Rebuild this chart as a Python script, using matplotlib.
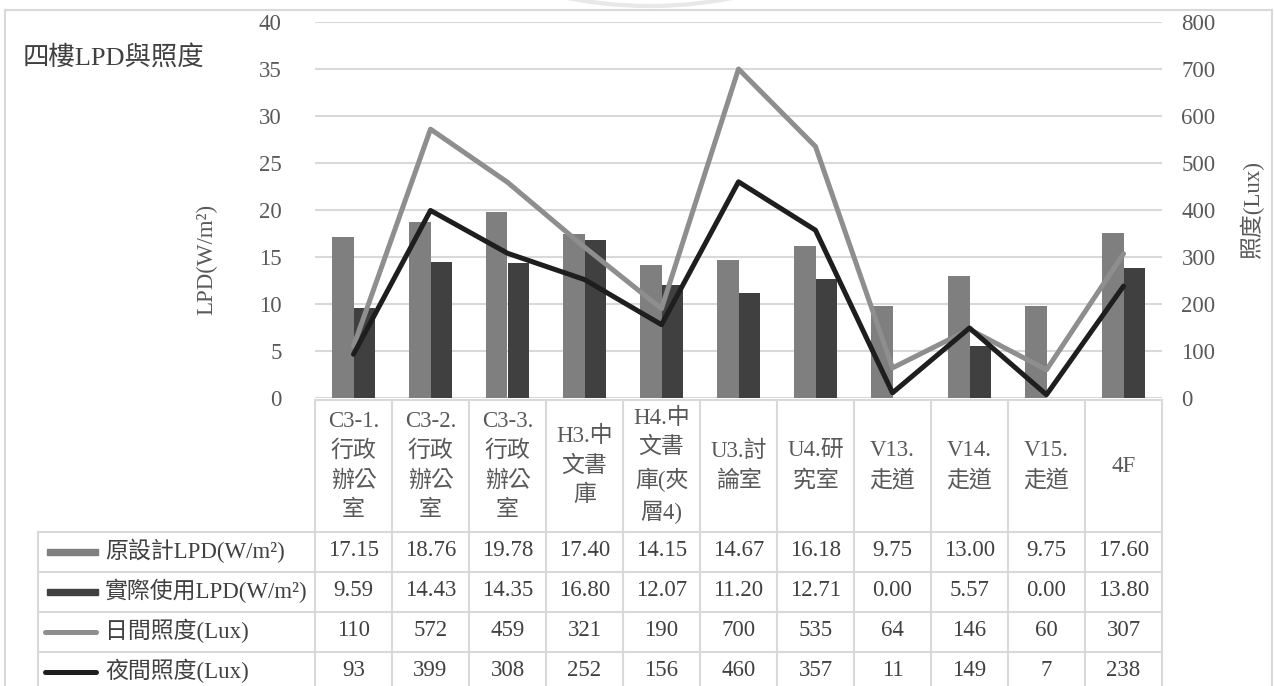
import matplotlib
matplotlib.use("Agg")
import matplotlib.pyplot as plt
from matplotlib import transforms
from matplotlib.lines import Line2D
from matplotlib.patches import Rectangle, Arc

# ---- data ----
categories = ["C3-1.\n行政\n辦公\n室", "C3-2.\n行政\n辦公\n室", "C3-3.\n行政\n辦公\n室",
              "H3.中\n文書\n庫", "H4.中\n文書\n庫(夾\n層4)", "U3.討\n論室",
              "U4.研\n究室", "V13.\n走道", "V14.\n走道", "V15.\n走道", "4F"]
design_lpd = [17.15, 18.76, 19.78, 17.40, 14.15, 14.67, 16.18, 9.75, 13.00, 9.75, 17.60]
actual_lpd = [9.59, 14.43, 14.35, 16.80, 12.07, 11.20, 12.71, 0.00, 5.57, 0.00, 13.80]
day_lux = [110, 572, 459, 321, 190, 700, 535, 64, 146, 60, 307]
night_lux = [93, 399, 308, 252, 156, 460, 357, 11, 149, 7, 238]
series_names = ["原設計LPD(W/m²)", "實際使用LPD(W/m²)", "日間照度(Lux)", "夜間照度(Lux)"]
title = "四樓LPD與照度"
left_ticks = [0, 5, 10, 15, 20, 25, 30, 35, 40]
right_ticks = [0, 100, 200, 300, 400, 500, 600, 700, 800]

# ---- style ----
FAM = ["Liberation Serif", "Noto Sans CJK TC", "DejaVu Sans"]
plt.rcParams["font.family"] = FAM
TXT = "#595959"
GRID = "#d9d9d9"
C_DESIGN = "#7f7f7f"
C_ACTUAL = "#404040"
C_DAY = "#8e8e8e"
C_NIGHT = "#1e1e1e"
FS = 16.5

W, H = 1274, 686
fig = plt.figure(figsize=(W / 100, H / 100), dpi=100)


def fx(x):
    return x / W


def fy(y):
    return 1 - y / H


ax = fig.add_axes([fx(315), fy(398), fx(1162) - fx(315), fy(22) - fy(398)])
ax2 = ax.twinx()

n = len(categories)
xs = list(range(n))
bw = 0.28
ax.bar([x - bw / 2 for x in xs], design_lpd, width=bw, color=C_DESIGN, zorder=2)
ax.bar([x + bw / 2 for x in xs], actual_lpd, width=bw, color=C_ACTUAL, zorder=2)
ax.set_xlim(-0.5, n - 0.5)
ax.set_ylim(0, 40)
ax.set_yticks(left_ticks)
ax.yaxis.grid(True, color=GRID, linewidth=1.5)
ax.set_axisbelow(True)
ax.set_xticks([])
for s in ax.spines.values():
    s.set_visible(False)
ax.tick_params(axis="y", length=0, pad=24, labelsize=FS, labelcolor=TXT)

ax2.plot(xs, day_lux, color=C_DAY, lw=3.6, solid_capstyle="round", solid_joinstyle="round", zorder=3)
ax2.plot(xs, night_lux, color=C_NIGHT, lw=3.6, solid_capstyle="round", solid_joinstyle="round", zorder=4)
ax2.set_ylim(0, 800)
ax2.set_yticks(right_ticks)
for s in ax2.spines.values():
    s.set_visible(False)
ax2.tick_params(axis="y", length=0, pad=14, labelsize=FS, labelcolor=TXT)
ax.set_zorder(ax2.get_zorder() - 1)
ax.patch.set_visible(False)

# axis titles
fig.text(fx(207), fy(259), "LPD(W/m²)", rotation=90, ha="center", va="center",
         fontsize=FS, color=TXT)
fig.text(fx(1252), fy(210), "照度(Lux)", rotation=90, ha="center", va="center",
         fontsize=FS, color=TXT)
fig.text(fx(23), fy(57), title, ha="left", va="center", fontsize=19, color="#404040")

# outer chart border
for xy in [((5, 5), (10, H)), ((5, 1272), (10, 10)), ((1272, 1272), (10, H))]:
    fig.add_artist(Line2D([fx(v) for v in xy[0]], [fy(v) for v in xy[1]],
                          color=GRID, lw=1.5))

# faint seal outline peeking in above the frame
R = 430
fig.add_artist(Arc((fx(650), fy(6 - R)), fx(2 * R), 2 * R / H, theta1=255, theta2=285,
                   transform=fig.transFigure, color="#e8e8e8", lw=3))

# ---- data table ----
colT = transforms.blended_transform_factory(ax.transData, fig.transFigure)
head_top, head_bot = 400, 532
row_edges = [532, 572, 612, 652, 692]
x_left = fx(38)

for i in range(n + 1):
    fig.add_artist(Line2D([i - 0.5, i - 0.5], [fy(head_top), fy(H + 5)],
                          transform=colT, color=GRID, lw=1.5))
fig.add_artist(Line2D([-0.5, n - 0.5], [fy(head_top)] * 2, transform=colT, color=GRID, lw=1.5))
for y in row_edges[:-1]:
    fig.add_artist(Line2D([fx(38), fx(1162)], [fy(y)] * 2, color=GRID, lw=1.5))
fig.add_artist(Line2D([x_left, x_left], [fy(532), fy(H + 5)], color=GRID, lw=1.5))

for i, lab in enumerate(categories):
    fig.text(i, fy((head_top + head_bot) / 2), lab, transform=colT, ha="center",
             va="center", fontsize=FS, color=TXT, linespacing=1.5, multialignment="center")

rows = [[f"{v:.2f}" for v in design_lpd], [f"{v:.2f}" for v in actual_lpd],
        [f"{v:d}" for v in day_lux], [f"{v:d}" for v in night_lux]]
for r, vals in enumerate(rows):
    yc = fy((row_edges[r] + row_edges[r + 1]) / 2 - 1)
    for i, v in enumerate(vals):
        fig.text(i, yc, v, transform=colT, ha="center", va="center",
                 fontsize=FS, color="#404040")
    fig.text(fx(105), yc, series_names[r], ha="left", va="center", fontsize=FS, color="#404040")

# legend keys inside the table
for r, c in enumerate([C_DESIGN, C_ACTUAL]):
    yc = (row_edges[r] + row_edges[r + 1]) / 2
    fig.add_artist(Rectangle((fx(47), fy(yc + 3)), fx(98) - fx(47), 6 / H,
                             color=c, transform=fig.transFigure))
for r, c in [(2, C_DAY), (3, C_NIGHT)]:
    yc = fy((row_edges[r] + row_edges[r + 1]) / 2)
    fig.add_artist(Line2D([fx(45), fx(96)], [yc, yc], color=c, lw=3.6,
                          solid_capstyle="round"))

fig.savefig("out.png", dpi=100)
